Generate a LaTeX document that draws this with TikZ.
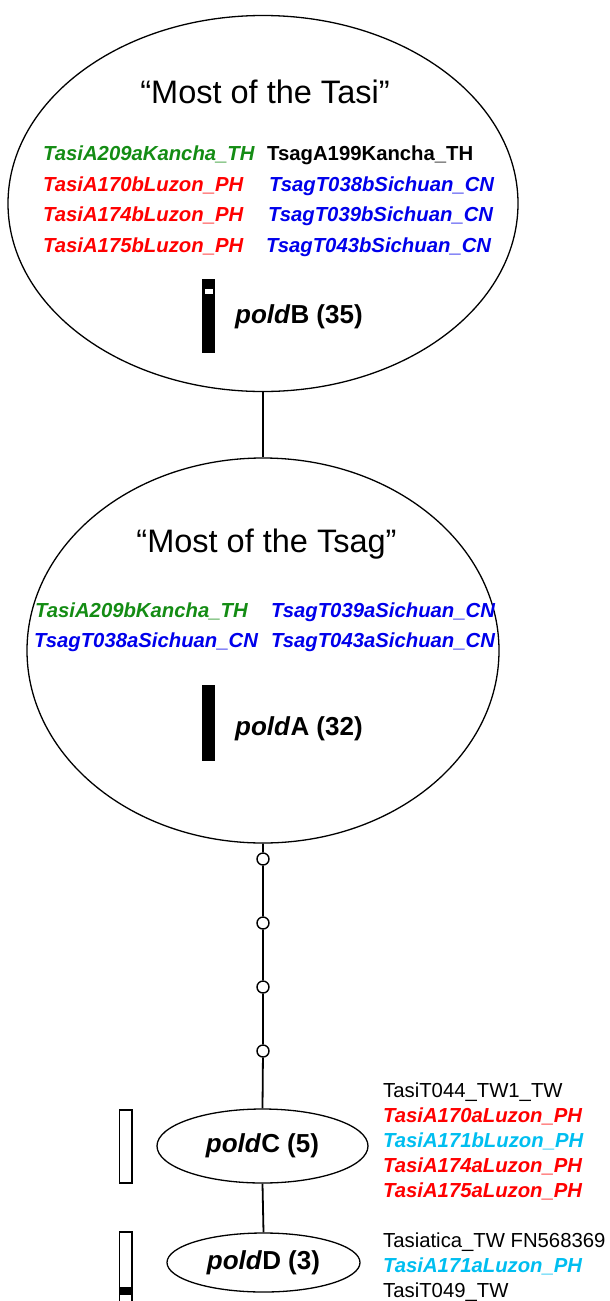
\documentclass[tikz,border=0pt]{standalone}
\usepackage{fontspec}
\setmainfont{Liberation Sans}
\usetikzlibrary{shapes.geometric}
\definecolor{tgreen}{RGB}{20,140,20}
\definecolor{tred}{RGB}{255,0,0}
\definecolor{tblue}{RGB}{0,0,235}
\definecolor{tcyan}{RGB}{0,190,240}
\tikzset{
  bigell/.style={ellipse, draw, line width=1.3pt, inner sep=0pt},
  conn/.style={line width=1.8pt},
  dotc/.style={circle, draw, line width=1.4pt, fill=white, minimum size=12pt, inner sep=0pt},
  sp/.style={anchor=base west, inner sep=0pt, font=\fontsize{20.3}{24}\selectfont\bfseries\itshape},
  spr/.style={anchor=base west, inner sep=0pt, font=\fontsize{20.3}{24}\selectfont},
  ttl/.style={anchor=base, inner sep=0pt, font=\fontsize{32.5}{38}\selectfont},
  poldlab/.style={anchor=base west, inner sep=0pt, font=\fontsize{26}{30}\selectfont\bfseries},
}
\begin{document}
\begin{tikzpicture}[x=1pt,y=-1pt]
\useasboundingbox (0,0) rectangle (610,1301);
% ellipses
\node[bigell, minimum width=510pt, minimum height=376pt] (e1) at (263,203.5) {};
\node[bigell, minimum width=472pt, minimum height=385pt] (e2) at (263,650.5) {};
\node[bigell, minimum width=211pt, minimum height=74pt, font=\fontsize{26}{30}\selectfont\bfseries] (eC) at (262.5,1146) {\textit{pold}C (5)};
\node[bigell, minimum width=193pt, minimum height=59pt, font=\fontsize{26}{30}\selectfont\bfseries] (eD) at (263.5,1262.5) {\textit{pold}D (3)};
% connectors
\draw[conn] (e1.south) -- (e2.north);
\node[dotc] (c1) at (263,859) {};
\node[dotc] (c2) at (263,923) {};
\node[dotc] (c3) at (263,987) {};
\node[dotc] (c4) at (263,1051) {};
\draw[conn] (e2.south) -- (c1) -- (c2) -- (c3) -- (c4) -- (eC.north);
\draw[conn] (eC.south) -- (eD.north);
% titles
\node[ttl] (t1) at (265,103) {“Most of the Tasi”};
\node[ttl] (t2) at (266.5,552) {“Most of the Tsag”};
% ellipse 1 list
\node[sp, text=tgreen] (a1) at (43,160) {TasiA209aKancha\_TH};
\node[sp, text=tred] (a2) at (43,191) {TasiA170bLuzon\_PH};
\node[sp, text=tred] (a3) at (43,221) {TasiA174bLuzon\_PH};
\node[sp, text=tred] (a4) at (43,252) {TasiA175bLuzon\_PH};
\node[spr, font=\fontsize{20.3}{24}\selectfont\bfseries] (b1) at (267,160) {TsagA199Kancha\_TH};
\node[sp, text=tblue] (b2) at (269,191) {TsagT038bSichuan\_CN};
\node[sp, text=tblue] (b3) at (268,221) {TsagT039bSichuan\_CN};
\node[sp, text=tblue] (b4) at (266,252) {TsagT043bSichuan\_CN};
% ellipse 2 list
\node[sp, text=tgreen] (d1) at (35,617) {TasiA209bKancha\_TH};
\node[sp, text=tblue] (d2) at (34,647) {TsagT038aSichuan\_CN};
\node[sp, text=tblue] (f1) at (271,617) {TsagT039aSichuan\_CN};
\node[sp, text=tblue] (f2) at (271,647) {TsagT043aSichuan\_CN};
% pold labels
\node[poldlab] (pB) at (235,323) {\textit{pold}B (35)};
\node[poldlab] (pA) at (235,735) {\textit{pold}A (32)};
% bars
\fill (202,279) rectangle (215,353);
\fill[white] (205,289) rectangle (213,294);
\fill (202,685) rectangle (215,761);
\draw[line width=1.2pt, fill=white] (119.5,1110) rectangle (132,1183);
\draw[line width=1.2pt, fill=white] (119.5,1232) rectangle (132,1310);
\fill (119.5,1287) rectangle (132,1295);
% C labels
\node[spr] (g1) at (383,1097) {TasiT044\_TW1\_TW};
\node[sp, text=tred] (g2) at (383,1122) {TasiA170aLuzon\_PH};
\node[sp, text=tcyan] (g3) at (383,1147) {TasiA171bLuzon\_PH};
\node[sp, text=tred] (g4) at (383,1172) {TasiA174aLuzon\_PH};
\node[sp, text=tred] (g5) at (383,1197) {TasiA175aLuzon\_PH};
% D labels
\node[spr] (h1) at (383,1247) {Tasiatica\_TW FN568369};
\node[sp, text=tcyan] (h2) at (383,1272) {TasiA171aLuzon\_PH};
\node[spr] (h3) at (383,1297) {TasiT049\_TW};
\end{tikzpicture}
\end{document}
